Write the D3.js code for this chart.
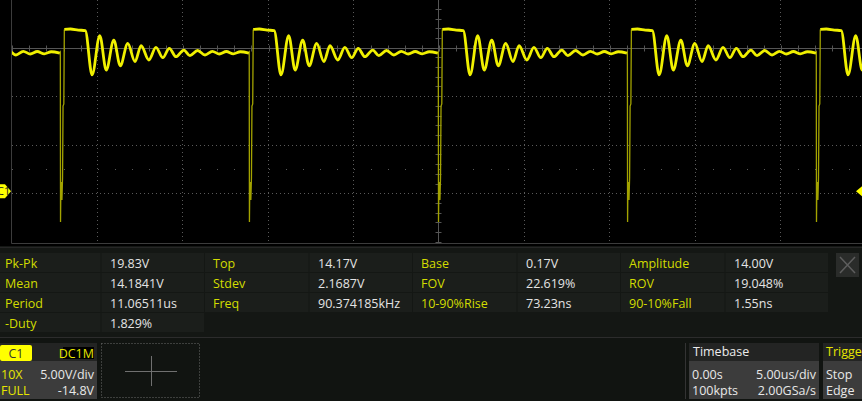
<!DOCTYPE html>
<html>
<head>
<meta charset="utf-8">
<script src="https://cdn.jsdelivr.net/npm/d3@7"></script>
<style>
body { margin: 0; background: #000; overflow: hidden; }
text { font-family: "Open Sans", sans-serif; }
</style>
</head>
<body>
<div id="scope"></div>
<script>
// channel / timebase setup (from the status bar)
var voltsPerDiv = 5.0;
var offsetV = -14.8;
var usPerDiv = 5.0;

// falling edges of the trace in us, trigger at 0
var edgeTimes = [-33.20, -22.13, -11.07, 0.00, 11.07, 22.13];

// one cycle, time from the falling edge (us) and volts
// fast part: fall, spike and rise (drawn thin)
var edgeT = [-0.02, 0.000, 0.012, 0.030, 0.060, 0.095, 0.130, 0.160, 0.205, 0.235];
var edgeV = [14.25, 14.31, -3.17, 0.00, 0.95, -0.90, 1.37, 8.79, 9.00, 16.68];
// slow part: plateau, ringing, ripple
var ringT = [0.235, 0.59, 1.05, 1.46, 1.86, 2.31, 2.69, 3.13, 3.51, 3.95, 4.37, 4.73, 5.18, 5.60,
             6.00, 6.38, 6.77, 7.23, 7.59, 8.04, 8.47, 8.90, 9.31, 9.72, 10.13, 10.54, 11.04];
var ringV = [16.68, 16.73, 16.62, 16.57, 11.99, 16.04, 12.50, 15.59, 12.94, 15.25, 13.36, 15.01, 13.53, 14.84,
             13.77, 14.74, 13.87, 14.56, 13.98, 14.51, 14.05, 14.43, 14.15, 14.41, 14.17, 14.38, 14.25];

// measurements
var measNames = ["Pk-Pk", "Top", "Base", "Amplitude",
                 "Mean", "Stdev", "FOV", "ROV",
                 "Period", "Freq", "10-90%Rise", "90-10%Fall",
                 "-Duty"];
var measValues = ["19.83V", "14.17V", "0.17V", "14.00V",
                  "14.1841V", "2.1687V", "22.619%", "19.048%",
                  "11.06511us", "90.374185kHz", "73.23ns", "1.55ns",
                  "1.829%"];

var W = 862, H = 401;

var svg = d3.select('#scope').append('svg')
    .attr('width', W)
    .attr('height', H);

svg.append('rect').attr('width', W).attr('height', H).attr('fill', '#000');

var x = d3.scaleLinear()
    .domain([-5 * usPerDiv, 5 * usPerDiv])
    .range([11.3, 865.3]);
var center = -offsetV;
var y = d3.scaleLinear()
    .domain([center - 4 * voltsPerDiv, center + voltsPerDiv])
    .range([241.7, -0.8]);

svg.append('clipPath').attr('id', 'plotclip')
    .append('rect').attr('x', 12).attr('y', 0).attr('width', W - 12).attr('height', 243);

var grid = svg.append('g');
var gridCol = '#5a5a5a';

// dotted divisions
var vDivs = d3.range(-5 * usPerDiv, 5 * usPerDiv + 0.01, usPerDiv).filter(d => d != 0 && d != -5 * usPerDiv);
grid.selectAll('.vdiv').data(vDivs).enter().append('line')
    .attr('x1', d => Math.round(x(d)) + 0.5).attr('x2', d => Math.round(x(d)) + 0.5)
    .attr('y1', 0).attr('y2', 243)
    .attr('stroke', gridCol).attr('stroke-dasharray', '1,3');

var hDivs = [center - 3 * voltsPerDiv, center - 2 * voltsPerDiv, center - voltsPerDiv];
grid.selectAll('.hdiv').data(hDivs).enter().append('line')
    .attr('x1', 12).attr('x2', W)
    .attr('y1', d => Math.round(y(d)) + 0.5).attr('y2', d => Math.round(y(d)) + 0.5)
    .attr('stroke', gridCol).attr('stroke-dasharray', '1,3');

// sparse dot row
var dotTimes = d3.range(-25, 25.01, 1);
grid.selectAll('.dot').data(dotTimes).enter().append('rect')
    .attr('x', d => Math.round(x(d)) + 1).attr('y', Math.round(y(center - 2.5 * voltsPerDiv)))
    .attr('width', 1).attr('height', 1).attr('fill', gridCol);

// frame
grid.append('line').attr('x1', 11.5).attr('x2', 11.5).attr('y1', 0).attr('y2', 243.5)
    .attr('stroke', '#3c3c3c');
grid.append('line').attr('x1', 11.5).attr('x2', W).attr('y1', 243.5).attr('y2', 243.5)
    .attr('stroke', '#3c3c3c');

// center lines with ticks
var cy = Math.round(y(center)) + 0.5;
var cx = Math.round(x(0)) + 0.5;
grid.append('line').attr('x1', 12).attr('x2', W).attr('y1', cy).attr('y2', cy).attr('stroke', '#555');
grid.append('line').attr('x1', cx).attr('x2', cx).attr('y1', 0).attr('y2', 243).attr('stroke', '#555');
grid.selectAll('.xtick').data(d3.range(-25, 25.01, 1)).enter().append('line')
    .attr('x1', d => Math.round(x(d)) + 1.5).attr('x2', d => Math.round(x(d)) + 1.5)
    .attr('y1', cy - 3).attr('y2', cy + 3).attr('stroke', '#555');
grid.selectAll('.ytick').data(d3.range(center - 4 * voltsPerDiv, center + voltsPerDiv + 0.01, 1)).enter().append('line')
    .attr('x1', cx - 3).attr('x2', cx + 3)
    .attr('y1', d => Math.round(y(d)) + 0.5).attr('y2', d => Math.round(y(d)) + 0.5)
    .attr('stroke', '#555');

// trace
var plot = svg.append('g').attr('clip-path', 'url(#plotclip)');
var fastLine = d3.line().x(d => x(d[0])).y(d => y(d[1]));
var slowLine = d3.line().x(d => x(d[0])).y(d => y(d[1])).curve(d3.curveMonotoneX);

var edgePaths = edgeTimes.map(e => edgeT.map((t, i) => [e + t, edgeV[i]]));
var ringPaths = edgeTimes.map(e => ringT.map((t, i) => [e + t, ringV[i]]));

plot.selectAll('.edge').data(edgePaths).enter().append('path')
    .attr('d', fastLine)
    .attr('fill', 'none').attr('stroke', '#a3a300').attr('stroke-width', 1.3);
plot.selectAll('.ring').data(ringPaths).enter().append('path')
    .attr('d', slowLine)
    .attr('fill', 'none').attr('stroke', '#f0f000').attr('stroke-width', 2.8)
    .attr('stroke-linejoin', 'round');

// channel marker and trigger marker
var gy = y(0);
svg.append('path')
    .attr('d', 'M0,' + (gy - 7) + 'L5,' + (gy - 7) + 'L11,' + gy + 'L5,' + (gy + 7) + 'L0,' + (gy + 7) + 'Z')
    .attr('fill', '#ffff00');
svg.append('text').attr('x', -3).attr('y', gy + 4).text('C1')
    .attr('font-size', 11).attr('fill', '#222');
svg.append('path')
    .attr('d', 'M862,' + (gy - 5) + 'L856,' + gy + 'L862,' + (gy + 5) + 'Z')
    .attr('fill', '#ffff00');

// measurement panel
var panel = svg.append('g');
panel.append('rect').attr('x', 0).attr('y', 246).attr('width', W).attr('height', 91).attr('fill', '#141714');
panel.append('line').attr('x1', 0).attr('x2', W).attr('y1', 247.5).attr('y2', 247.5).attr('stroke', '#262626');

var pairX = [-3, 205, 413, 621];
var meas = measNames.map((n, i) => ({name: n, value: measValues[i], row: Math.floor(i / 4), col: i % 4}));

var cells = panel.selectAll('.cell').data(meas).enter().append('g');
cells.append('rect')
    .attr('x', d => pairX[d.col]).attr('y', d => 253 + 20 * d.row)
    .attr('width', 103.5).attr('height', 19).attr('fill', '#1b1e1b');
cells.append('rect')
    .attr('x', d => pairX[d.col] + 104.5).attr('y', d => 253 + 20 * d.row)
    .attr('width', 102.5).attr('height', 19).attr('fill', '#1b1e1b');
cells.append('text')
    .attr('x', d => pairX[d.col] + 8).attr('y', d => 267.5 + 20 * d.row)
    .attr('font-size', 12.5).attr('fill', '#d2dc00')
    .text(d => d.name);
cells.append('text')
    .attr('x', d => pairX[d.col] + 113).attr('y', d => 267.5 + 20 * d.row)
    .attr('font-size', 12.5).attr('fill', '#e4e4e4')
    .text(d => d.value);

// close button
panel.append('rect').attr('x', 836).attr('y', 253).attr('width', 23).attr('height', 24).attr('fill', '#2a2c2a');
panel.append('path').attr('d', 'M840,257L855,273M855,257L840,273')
    .attr('stroke', '#5e5e5e').attr('stroke-width', 1.5);

// status bar
var fs = 12.5;
var bar = svg.append('g');
bar.append('rect').attr('x', 0).attr('y', 337).attr('width', W).attr('height', 64).attr('fill', '#111411');
bar.append('line').attr('x1', 0).attr('x2', W).attr('y1', 337.5).attr('y2', 337.5).attr('stroke', '#2c2c2c');

// C1 box
bar.append('rect').attr('x', 0).attr('y', 343).attr('width', 97).attr('height', 18).attr('fill', '#232423');
bar.append('rect').attr('x', 0).attr('y', 361).attr('width', 97).attr('height', 38).attr('fill', '#3c3c3c');
bar.append('rect').attr('x', 0).attr('y', 345).attr('width', 32).attr('height', 16).attr('rx', 2).attr('fill', '#ffff00');
bar.append('text').attr('x', 16).attr('y', 357.5).attr('text-anchor', 'middle')
    .attr('font-size', fs).attr('fill', '#333').text('C1');
bar.append('rect').attr('x', 63).attr('y', 347).attr('width', 31).attr('height', 12).attr('fill', '#000');
bar.append('text').attr('x', 94).attr('y', 357.5).attr('text-anchor', 'end')
    .attr('font-size', fs).attr('fill', '#e6e600').text('DC1M');
bar.append('text').attr('x', 1).attr('y', 378.5).attr('font-size', fs).attr('fill', '#e6e600').text('10X');
bar.append('text').attr('x', 94).attr('y', 378.5).attr('text-anchor', 'end')
    .attr('font-size', fs).attr('fill', '#e8e8e8').text(voltsPerDiv.toFixed(2) + 'V/div');
bar.append('text').attr('x', 1).attr('y', 394.5).attr('font-size', fs).attr('fill', '#e6e600').text('FULL');
bar.append('text').attr('x', 94).attr('y', 394.5).attr('text-anchor', 'end')
    .attr('font-size', fs).attr('fill', '#e8e8e8').text(offsetV.toFixed(1) + 'V');

// dotted box with crosshair
bar.append('rect').attr('x', 101.5).attr('y', 343.5).attr('width', 98).attr('height', 54)
    .attr('fill', 'none').attr('stroke', '#6a6a6a').attr('stroke-dasharray', '1,2');
bar.append('path').attr('d', 'M125,371.5L177,371.5M151.5,356L151.5,386')
    .attr('stroke', '#707070');

// timebase box
bar.append('line').attr('x1', 685.5).attr('x2', 685.5).attr('y1', 343).attr('y2', 399).attr('stroke', '#333');
bar.append('rect').attr('x', 689).attr('y', 343).attr('width', 130).attr('height', 18).attr('fill', '#232423');
bar.append('rect').attr('x', 689).attr('y', 361).attr('width', 130).attr('height', 38).attr('fill', '#3c3c3c');
bar.append('text').attr('x', 693).attr('y', 356).attr('font-size', fs).attr('fill', '#ececec').text('Timebase');
bar.append('text').attr('x', 692).attr('y', 378.5).attr('font-size', fs).attr('fill', '#e8e8e8').text('0.00s');
bar.append('text').attr('x', 816).attr('y', 378.5).attr('text-anchor', 'end')
    .attr('font-size', fs).attr('fill', '#e8e8e8').text(usPerDiv.toFixed(2) + 'us/div');
bar.append('text').attr('x', 692).attr('y', 394.5).attr('font-size', fs).attr('fill', '#e8e8e8').text('100kpts');
bar.append('text').attr('x', 816).attr('y', 394.5).attr('text-anchor', 'end')
    .attr('font-size', fs).attr('fill', '#e8e8e8').text('2.00GSa/s');

// trigger box
bar.append('rect').attr('x', 823).attr('y', 343).attr('width', 40).attr('height', 18).attr('fill', '#232423');
bar.append('rect').attr('x', 823).attr('y', 361).attr('width', 40).attr('height', 38).attr('fill', '#3c3c3c');
bar.append('text').attr('x', 826).attr('y', 356).attr('font-size', fs).attr('fill', '#e6e600').text('Trigger');
bar.append('text').attr('x', 826).attr('y', 378.5).attr('font-size', fs).attr('fill', '#e8e8e8').text('Stop');
bar.append('text').attr('x', 826).attr('y', 394.5).attr('font-size', fs).attr('fill', '#e8e8e8').text('Edge');
</script>
</body>
</html>
